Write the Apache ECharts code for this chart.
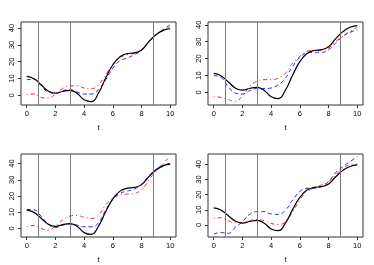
<!DOCTYPE html>
<html><head><meta charset="utf-8">
<script src="https://cdn.jsdelivr.net/npm/echarts@6/dist/echarts.min.js"></script>
<style>html,body{margin:0;padding:0;background:#fff}#c{width:374px;height:265px}</style>
</head><body><div id="c"></div>
<script>
const t = [0,0.5,1,1.5,2,2.5,3,3.5,4,4.5,5,5.5,6,6.5,7,7.5,8,8.5,9,9.5,10];
const xTicks = [0,2,4,6,8,10];
const yTicks = [0,10,20,30,40];
const vLines = [0.8, 3.0, 8.8];
const truth = [11.3,9.9,6.3,2.6,1.3,2.3,3.0,1.3,-2.6,-3.7,1.4,10.3,18.2,23.0,24.8,25.3,27.0,31.8,36.0,38.6,39.6];
const red1  = [0.4,0.9,-1.2,-1.6,0.8,4.0,5.7,5.7,4.4,4.0,6.3,12.3,18.2,22.2,24.2,25.0,27.1,32.0,36.0,38.4,41.0];
const blue1 = [9.3,9.6,5.8,2.0,1.4,2.8,3.4,2.0,0.8,0.8,3.4,9.3,16.2,20.6,22.2,24.2,26.7,31.7,36.0,39.0,42.0];
const red2  = [-2.4,-3.0,-4.3,-5.3,-2.0,3.6,6.5,7.5,7.5,8.5,11.5,17.4,21.3,24.3,24.9,24.7,26.3,30.2,33.2,36.2,38.5];
const blue2 = [9.9,8.8,3.5,-0.4,-1.0,1.0,2.2,2.2,2.6,4.5,8.5,15.4,20.8,23.3,23.7,23.7,25.3,29.2,33.2,35.6,37.2];
const red3  = [1.0,1.8,0.0,-1.0,1.4,5.1,7.6,8.0,6.8,6.2,8.2,14.4,18.9,20.6,21.2,21.6,24.0,29.8,35.6,40.1,44.6];
const blue3 = [11.7,11.5,7.5,2.7,0.6,2.0,2.7,2.0,1.0,1.0,3.5,11.3,17.9,21.6,23.0,24.3,27.2,32.3,36.4,39.1,40.1];
const red4  = [4.4,4.8,2.8,1.5,1.5,2.9,3.7,2.9,1.1,0.4,2.2,8.8,16.5,22.0,24.6,26.4,28.6,33.0,37.4,39.6,40.2];
const blue4 = [-5.9,-5.0,-5.5,-1.5,2.2,7.0,8.8,8.8,7.3,7.0,9.9,16.5,22.0,24.2,24.2,25.3,28.6,34.5,38.5,41.8,45.0];

const panels = [
  {left:21, top:22, yMin:-5.7, yMax:43.6, red:red1, blue:blue1},
  {left:208, top:22, yMin:-7.5, yMax:41.7, red:red2, blue:blue2},
  {left:21, top:154, yMin:-5.3, yMax:45.9, red:red3, blue:blue3},
  {left:208, top:154, yMin:-7.9, yMax:46.8, red:red4, blue:blue4}
];
const font = {fontFamily:'Liberation Sans, Arial, sans-serif', fontSize:7.5, color:'#000'};
const grid=[], xAxis=[], yAxis=[], series=[];
const pts = arr => t.map((x,i)=>[x, arr[i]]);
panels.forEach((p,i)=>{
  grid.push({left:p.left, top:p.top, width:155, height:83, show:true, borderColor:'#333', borderWidth:1, backgroundColor:'transparent'});
  xAxis.push({type:'value', gridIndex:i, min:-0.4, max:10.4, splitLine:{show:false},
    axisLine:{show:false, onZero:false},
    axisTick:{show:true, length:3, customValues:xTicks, lineStyle:{color:'#333'}},
    axisLabel:Object.assign({customValues:xTicks, margin:5}, font),
    name:'t', nameLocation:'middle', nameGap:19, nameTextStyle:font});
  yAxis.push({type:'value', gridIndex:i, min:p.yMin, max:p.yMax, splitLine:{show:false},
    axisLine:{show:false, onZero:false},
    axisTick:{show:true, length:3, customValues:yTicks, lineStyle:{color:'#333'}},
    axisLabel:Object.assign({customValues:yTicks, margin:5, rotate:90}, font)});
  series.push({type:'line', xAxisIndex:i, yAxisIndex:i, data:pts(truth), smooth:true, showSymbol:false,
    lineStyle:{color:'#000', width:1.2}, z:3,
    markLine:{silent:true, symbol:['none','none'], label:{show:false},
      lineStyle:{color:'#777', width:1, type:'solid'},
      data:vLines.map(v=>({xAxis:v}))}});
  series.push({type:'line', xAxisIndex:i, yAxisIndex:i, data:pts(p.red), smooth:true, showSymbol:false,
    lineStyle:{color:'#ff2020', width:1, type:[1,3,4,3]}, z:2});
  series.push({type:'line', xAxisIndex:i, yAxisIndex:i, data:pts(p.blue), smooth:true, showSymbol:false,
    lineStyle:{color:'#2020ff', width:1, type:[4,3]}, z:2});
});
const chart = echarts.init(document.getElementById('c'), null, {renderer:'canvas'});
chart.setOption({animation:false, grid, xAxis, yAxis, series});
</script></body></html>
